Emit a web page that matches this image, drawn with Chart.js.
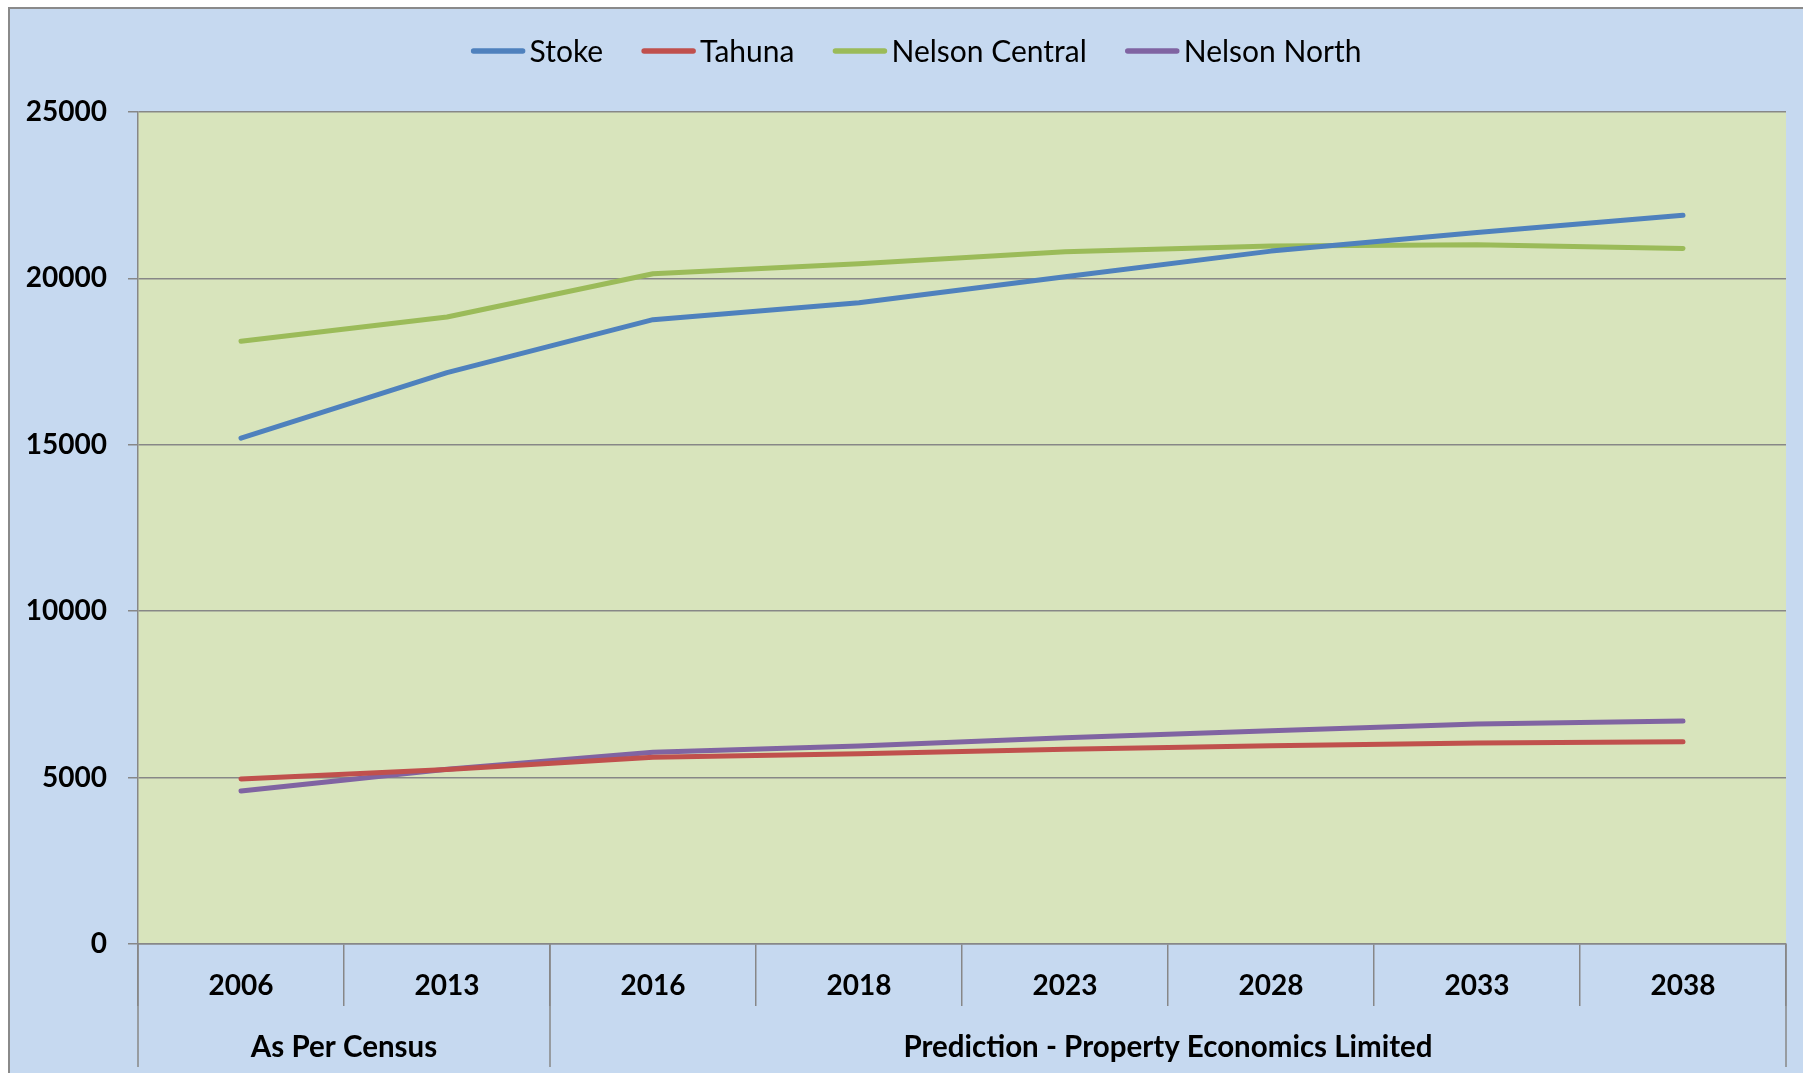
<!DOCTYPE html>
<html>
<head>
<meta charset="utf-8">
<script src="https://cdn.jsdelivr.net/npm/chart.js@4.4.1/dist/chart.umd.min.js"></script>
<style>
html, body { margin: 0; padding: 0; background: #fff; overflow: hidden; }
#frame { position: absolute; left: 8px; top: 7px; width: 1820px; height: 1090px; background: #C6D9F0; border-left: 2px solid #8a8a8a; border-top: 2px solid #8a8a8a; }
#wrap { position: absolute; left: 0; top: 0; width: 1803px; height: 1073px; }
</style>
</head>
<body>
<div id="frame"></div>
<div id="wrap"><canvas id="chart"></canvas></div>
<script>
'use strict';

let years = ['2006', '2013', '2016', '2018', '2023', '2028', '2033', '2038'];
let groupLabels = ['As Per Census', 'Prediction - Property Economics Limited'];
let groupSpans = [2, 6];

let seriesNames = ['Stoke', 'Tahuna', 'Nelson Central', 'Nelson North'];
let stoke = [15200, 17170, 18760, 19270, 20050, 20820, 21380, 21900];
let tahuna = [4960, 5240, 5610, 5720, 5850, 5960, 6040, 6080];
let nelsonCentral = [18110, 18840, 20140, 20440, 20800, 20970, 21010, 20900];
let nelsonNorth = [4600, 5250, 5760, 5950, 6200, 6410, 6610, 6700];
let colors = ['#4F81BD', '#C0504D', '#9BBB59', '#8064A2'];

let yTicks = [0, 5000, 10000, 15000, 20000, 25000];

const gridGray = '#878787';
const fontName = 'Lato';

// fills the plot area with the pale green
const plotBackground = {
  id: 'plotBackground',
  beforeDraw(chart) {
    let a = chart.chartArea;
    let ctx = chart.ctx;
    ctx.save();
    ctx.fillStyle = '#D8E4BC';
    ctx.fillRect(a.left, a.top, a.right - a.left, a.bottom - a.top);
    ctx.restore();
  }
};

// legend drawn as short lines followed by the series name
const lineLegend = {
  id: 'lineLegend',
  afterDraw(chart) {
    let ctx = chart.ctx;
    let sets = chart.data.datasets;
    let lineLen = 55, gap = 4, itemGap = 38, y = 51;
    ctx.save();
    ctx.font = '30px ' + fontName;
    let widths = sets.map(d => lineLen + gap + ctx.measureText(d.label).width);
    let total = widths.reduce((a, b) => a + b, 0) + itemGap * (sets.length - 1);
    let x = 916 - total / 2;
    for (let i = 0; i < sets.length; i++) {
      ctx.strokeStyle = sets[i].borderColor;
      ctx.lineWidth = 5.5;
      ctx.lineCap = 'round';
      ctx.beginPath();
      ctx.moveTo(x + 3, y);
      ctx.lineTo(x + lineLen - 3, y);
      ctx.stroke();
      ctx.fillStyle = '#000';
      ctx.textAlign = 'left';
      ctx.textBaseline = 'middle';
      ctx.fillText(sets[i].label, x + lineLen + gap, y + 1);
      x += widths[i] + itemGap;
    }
    ctx.restore();
  }
};

// second row of the category axis: group separators and group names
const groupAxis = {
  id: 'groupAxis',
  afterDraw(chart) {
    let xs = chart.scales.x;
    let a = chart.chartArea;
    let ctx = chart.ctx;
    ctx.save();
    ctx.strokeStyle = gridGray;
    ctx.lineWidth = 1.5;
    ctx.font = 'bold 29.5px ' + fontName;
    ctx.fillStyle = '#000';
    ctx.textAlign = 'center';
    ctx.textBaseline = 'middle';
    let start = 0;
    let edges = [xs.getPixelForValue(-0.5)];
    for (let i = 0; i < groupSpans.length; i++) {
      let end = start + groupSpans[i];
      let x0 = xs.getPixelForValue(start - 0.5);
      let x1 = xs.getPixelForValue(end - 0.5);
      edges.push(x1);
      ctx.fillText(groupLabels[i], (x0 + x1) / 2, 1047);
      start = end;
    }
    for (let x of edges) {
      ctx.beginPath();
      ctx.moveTo(x, a.bottom);
      ctx.lineTo(x, 1067);
      ctx.stroke();
    }
    ctx.restore();
  }
};

function buildChart() {
  let allSeries = [stoke, tahuna, nelsonCentral, nelsonNorth];
  let datasets = [];
  for (let i = 0; i < seriesNames.length; i++) {
    datasets.push({
      label: seriesNames[i],
      data: allSeries[i],
      borderColor: colors[i],
      backgroundColor: colors[i],
      borderWidth: 5,
      borderCapStyle: 'round',
      borderJoinStyle: 'round',
      pointRadius: 0,
      tension: 0,
      fill: false
    });
  }

  const chartConfig = {
    type: 'line',
    data: {
      labels: years,
      datasets: datasets
    },
    options: {
      responsive: true,
      maintainAspectRatio: false,
      animation: false,
      layout: {
        padding: { left: 0, top: 112, right: 17, bottom: 0 }
      },
      plugins: {
        legend: { display: false },
        tooltip: { enabled: false }
      },
      scales: {
        x: {
          type: 'category',
          offset: true,
          afterFit(scale) { scale.height = 129; },
          grid: {
            offset: true,
            drawOnChartArea: false,
            drawTicks: true,
            tickLength: 62,
            color: gridGray,
            lineWidth: 1.5
          },
          border: { display: true, color: gridGray, width: 1.5 },
          ticks: {
            padding: -37,
            maxRotation: 0,
            autoSkip: false,
            color: '#000',
            font: { family: fontName, size: 28, weight: 'bold' }
          }
        },
        y: {
          min: 0,
          max: 25000,
          afterFit(scale) { scale.width = 138; },
          afterBuildTicks(scale) {
            scale.ticks = yTicks.map(v => ({ value: v }));
          },
          grid: {
            color: gridGray,
            lineWidth: 1.5,
            drawTicks: true,
            tickLength: 10
          },
          border: { display: true, color: gridGray, width: 1.5 },
          ticks: {
            padding: 21,
            color: '#000',
            font: { family: fontName, size: 28, weight: 'bold' },
            callback: v => String(v)
          }
        }
      }
    },
    plugins: [plotBackground, lineLegend, groupAxis]
  };
  new Chart(document.getElementById('chart'), chartConfig);
}

document.fonts.load('bold 28px ' + fontName).then(() => document.fonts.load('30px ' + fontName)).then(buildChart, buildChart);
</script>
</body>
</html>
